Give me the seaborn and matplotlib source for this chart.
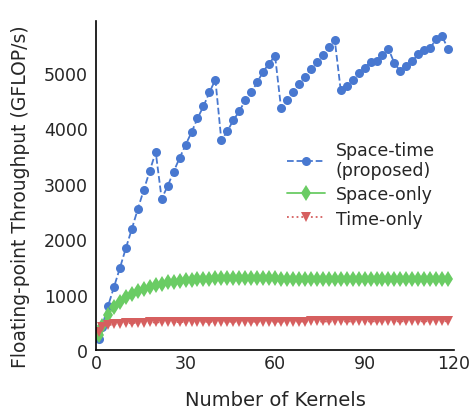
import numpy as np
import pandas as pd
import matplotlib
matplotlib.use("Agg")
import matplotlib.pyplot as plt
import seaborn as sns

# number of kernels
kernels = [1, 2] + list(range(4, 120, 2))

# throughput (GFLOP/s)
space_time = [193, 420, 790, 1135, 1480, 1840, 2185, 2545, 2890, 3230,
              3575, 2730, 2960, 3218, 3466, 3700, 3930, 4180, 4400, 4650,
              4880, 3785, 3950, 4146, 4310, 4505, 4650, 4830, 5025, 5170,
              5310, 4375, 4520, 4650, 4795, 4935, 5072, 5195, 5325, 5470,
              5600, 4693, 4770, 4880, 4993, 5096, 5200, 5222, 5325, 5440,
              5175, 5036, 5133, 5217, 5338, 5420, 5450, 5614, 5662, 5433]
space_only = [280, 430, 640, 770, 870, 950, 1020, 1070, 1110, 1145,
              1175, 1200, 1220, 1235, 1250, 1260, 1268, 1275, 1282, 1288,
              1292, 1295, 1298, 1300, 1300, 1302, 1302, 1303, 1303, 1300,
              1298, 1290, 1288, 1288, 1287, 1287, 1286, 1286, 1286, 1286,
              1286, 1286, 1286, 1286, 1286, 1286, 1286, 1286, 1286, 1286,
              1287, 1287, 1287, 1287, 1288, 1288, 1288, 1288, 1288, 1288]
time_only = [320, 420, 450, 465, 475, 482, 488, 492, 495, 498,
             500, 502, 504, 505, 506, 507, 508, 509, 510, 510,
             511, 511, 512, 512, 512, 513, 513, 513, 514, 514,
             514, 514, 515, 515, 515, 515, 516, 516, 516, 516,
             516, 517, 517, 517, 517, 517, 518, 518, 518, 518,
             518, 519, 519, 519, 519, 519, 520, 520, 520, 520]

sns.set_style("white")
pal = sns.color_palette("muted")

fig, ax = plt.subplots(figsize=(4.73, 4.14), dpi=100)
fig.subplots_adjust(left=0.203, right=0.96, top=0.947, bottom=0.152)

sns.lineplot(x=kernels, y=space_time, ax=ax, color=pal[0], marker="o",
             markersize=6.5, markeredgewidth=0, linestyle="--", linewidth=1.3,
             label="Space-time\n(proposed)")
sns.lineplot(x=kernels, y=space_only, ax=ax, color=pal[2], marker="d",
             markersize=8, markeredgewidth=0, linestyle="-", linewidth=1.3,
             label="Space-only")
sns.lineplot(x=kernels, y=time_only, ax=ax, color=pal[3], marker="v",
             markersize=7, markeredgewidth=0, linestyle=":", linewidth=1.3,
             label="Time-only")

ax.set_xlim(0, 120)
ax.set_ylim(0, 5940)
ax.set_xticks([0, 30, 60, 90, 120])
ax.set_yticks([0, 1000, 2000, 3000, 4000, 5000])
ax.tick_params(axis="y", labelsize=12.5, length=0, pad=6)
ax.tick_params(axis="x", labelsize=12.5, length=0, pad=3)
ax.set_xlabel("Number of Kernels", fontsize=14, labelpad=13)
ax.set_ylabel("Floating-point Throughput (GFLOP/s)", fontsize=13.5)
ax.yaxis.set_label_coords(-0.183, 0.47)
sns.despine(ax=ax)
for s in ["left", "bottom"]:
    ax.spines[s].set_color("black")
    ax.spines[s].set_linewidth(1.2)

ax.legend(loc="upper left", bbox_to_anchor=(0.49, 0.684), frameon=False,
          fontsize=12.5, handlelength=2.2, labelspacing=0.35,
          handletextpad=0.6)

fig.savefig("out.png")
